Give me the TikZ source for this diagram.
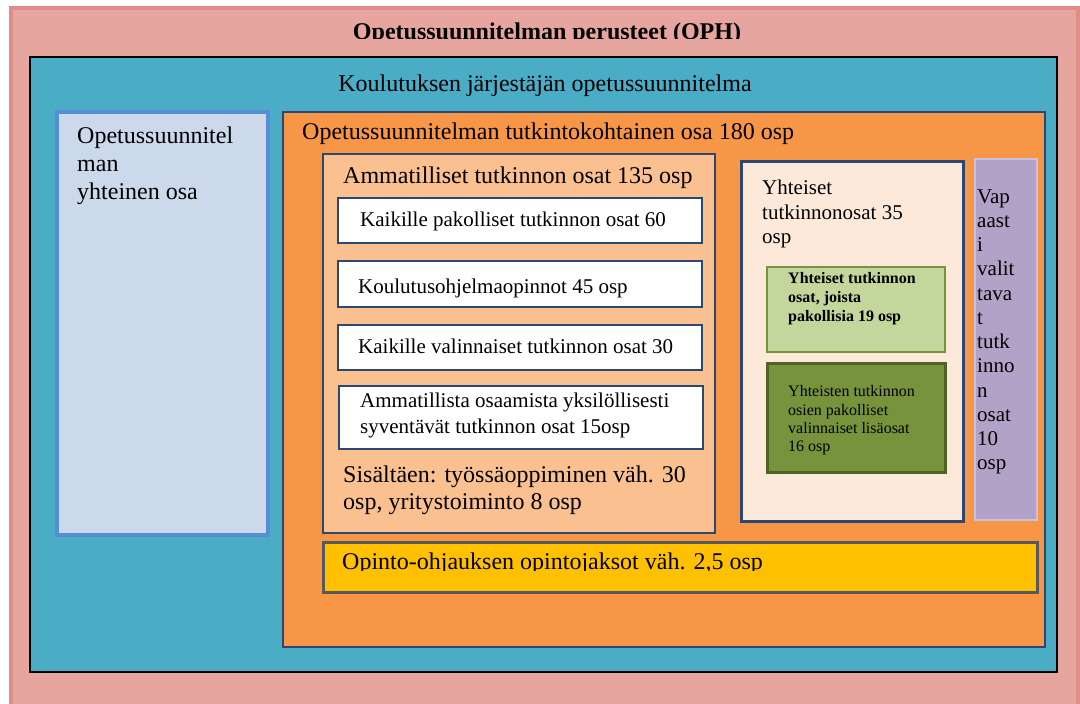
\documentclass[tikz,border=0pt]{standalone}
\usepackage{fontspec}
\setmainfont{Liberation Serif}
\definecolor{pinkfill}{HTML}{E6A59F}
\definecolor{pinkline}{HTML}{E08C87}
\definecolor{tealfill}{HTML}{4BACC6}
\definecolor{bluefill}{HTML}{CCD9EA}
\definecolor{blueline}{HTML}{558ED5}
\definecolor{orangefill}{HTML}{F79646}
\definecolor{navyline}{HTML}{2C4770}
\definecolor{peachfill}{HTML}{FAC090}
\definecolor{creamfill}{HTML}{FDE9D9}
\definecolor{lgreenfill}{HTML}{C3D69B}
\definecolor{lgreenline}{HTML}{77933C}
\definecolor{dgreenfill}{HTML}{77933C}
\definecolor{dgreenline}{HTML}{4F6228}
\definecolor{purplefill}{HTML}{B3A2C7}
\definecolor{purpleline}{HTML}{CCC1DA}
\definecolor{yellowfill}{HTML}{FFC000}
\definecolor{greyline}{HTML}{595959}
\begin{document}
\begin{tikzpicture}[x=1pt,y=-1pt,
  txtL/.style={inner sep=0pt, anchor=base west, font=\fontsize{24}{28}\selectfont},
  txtM/.style={inner sep=0pt, anchor=base west, font=\fontsize{21}{24.5}\selectfont},
  txtS/.style={inner sep=0pt, anchor=base west, font=\fontsize{16}{19}\selectfont},
  itembox/.style={fill=white, draw=navyline, line width=2.5pt},
]
\useasboundingbox (0,0) rectangle (1080,704);
\fill[white] (0,0) rectangle (1080,704);

% outermost frame: national core curriculum
\begin{scope}
  \clip (0,0) rectangle (1080,704);
  \draw[fill=pinkfill, draw=pinkline, line width=4pt] (10.5,8) rectangle (1078,730);
\end{scope}
\begin{scope}
  \clip (0,0) rectangle (1080,38.3);
  \node[inner sep=0pt, anchor=base, font=\fontsize{24}{28}\selectfont\bfseries] (oph) at (547,39.5)
    {Opetussuunnitelman perusteet (OPH)};
\end{scope}

% provider's curriculum
\draw[fill=tealfill, draw=black, line width=2pt] (30,57) rectangle (1057,672);
\node[inner sep=0pt, anchor=base, font=\fontsize{24}{28}\selectfont] (kjo) at (545,91)
  {Koulutuksen järjestäjän opetussuunnitelma};

% common part
\draw[fill=bluefill, draw=blueline, line width=3.5pt] (57,112) rectangle (268,535);
\node[txtL] (yht) at (77,143)
  {\parbox[t]{185pt}{\raggedright\fontsize{24}{28}\selectfont Opetussuunnitel\\man\\yhteinen osa}};

% qualification-specific part
\draw[fill=orangefill, draw=navyline, line width=2.5pt] (283,112) rectangle (1045,647);
\node[txtL] (tko) at (302,139) {Opetussuunnitelman tutkintokohtainen osa 180 osp};

% vocational units
\draw[fill=peachfill, draw=navyline, line width=2.5pt] (323,154) rectangle (715,533);
\node[txtL] (amm) at (343,183) {Ammatilliset tutkinnon osat 135 osp};

\draw[itembox] (338,198) rectangle (702,243);
\node[txtM] (pak) at (360,226) {Kaikille pakolliset tutkinnon osat 60};
\draw[itembox] (338,261) rectangle (702,307);
\node[txtM] (kop) at (358,293) {Koulutusohjelmaopinnot 45 osp};
\draw[itembox] (338,325) rectangle (702,370);
\node[txtM] (val) at (358,353) {Kaikille valinnaiset tutkinnon osat 30};
\draw[itembox] (339,386) rectangle (703,449);
\node[txtM] (syv) at (360,407)
  {\parbox[t]{340pt}{\raggedright\fontsize{21}{26}\selectfont Ammatillista osaamista yksilöllisesti\\syventävät tutkinnon osat 15osp}};
\node[txtL] (sis) at (343,482)
  {\parbox[t]{370pt}{\raggedright\fontsize{24}{27}\selectfont Sisältäen: työssäoppiminen väh. 30\\osp, yritystoiminto 8 osp}};

% common units
\draw[fill=creamfill, draw=navyline, line width=3pt] (741,161) rectangle (963,521);
\node[txtM] (ytu) at (762,194.5)
  {\parbox[t]{195pt}{\raggedright\fontsize{21}{24.5}\selectfont Yhteiset\\tutkinnonosat 35\\osp}};
\draw[fill=lgreenfill, draw=lgreenline, line width=2.5pt] (767,267) rectangle (945,352);
\node[txtS] (ypa) at (788,283.3)
  {\parbox[t]{150pt}{\raggedright\fontsize{16}{19.2}\selectfont\bfseries Yhteiset tutkinnon\\osat, joista\\pakollisia 19 osp}};
\draw[fill=dgreenfill, draw=dgreenline, line width=3pt] (767,363) rectangle (945,472);
\node[txtS] (yva) at (788,396.7)
  {\parbox[t]{150pt}{\raggedright\fontsize{16}{18.3}\selectfont Yhteisten tutkinnon\\osien pakolliset\\valinnaiset lisäosat\\16 osp}};

% free-choice units
\draw[fill=purplefill, draw=purpleline, line width=2.5pt] (975,159) rectangle (1037,520);
\node[txtM] (vap) at (977,203)
  {\parbox[t]{58pt}{\raggedright\fontsize{21}{24.27}\selectfont Vap\\aast\\i\\valit\\tava\\t\\tutk\\inno\\n\\osat\\10\\osp}};

% guidance studies
\draw[fill=yellowfill, draw=greyline, line width=3pt] (323,542) rectangle (1037,592);
\begin{scope}
  \clip (323,542) rectangle (1037,570);
  \node[txtL] (oo) at (342,569.5) {Opinto-ohjauksen opintojaksot väh. 2,5 osp};
\end{scope}
\end{tikzpicture}
\end{document}
